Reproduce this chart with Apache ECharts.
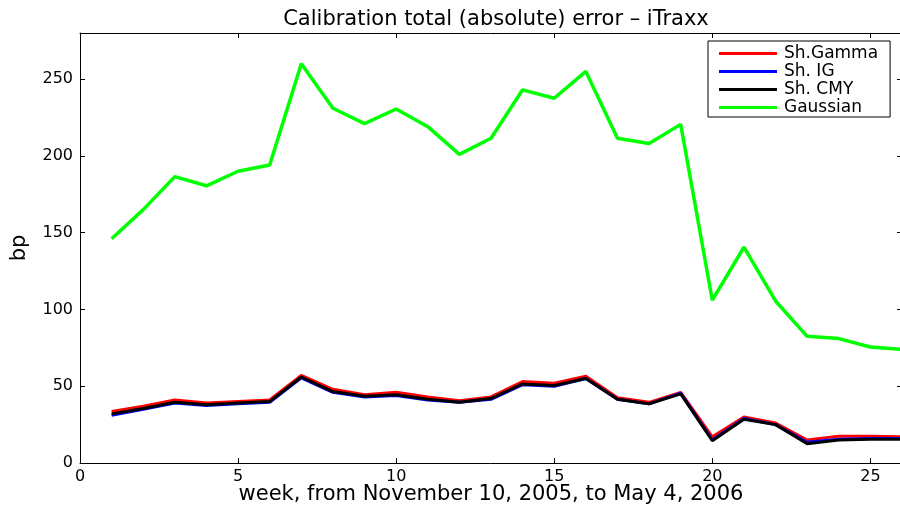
<!DOCTYPE html>
<html>
<head>
<meta charset="utf-8">
<script src="https://cdn.jsdelivr.net/npm/echarts@6/dist/echarts.min.js"></script>
<style>
  html, body { margin: 0; padding: 0; background: #fff; }
  #chart { width: 900px; height: 506px; }
</style>
</head>
<body>
<div id="chart"></div>
<script>
// weeks 1..26
const weeks = [1, 2, 3, 4, 5, 6, 7, 8, 9, 10, 11, 12, 13, 14, 15, 16, 17, 18, 19, 20, 21, 22, 23, 24, 25, 26];

// error in bp
const shGamma = [33.5, 37, 41, 39, 40, 41, 57, 48, 44.5, 46, 43, 40.5, 43, 53, 52, 56.5, 42.5, 39.5, 46, 17, 30, 26, 15, 17.5, 17.5, 17];
const shIG = [31, 35, 39, 37.5, 38.5, 39.5, 55.5, 46, 43, 44, 41, 39.5, 41.5, 51, 50, 55, 41.5, 38.5, 45.5, 15, 29, 25, 13.5, 15.5, 16, 16];
const shCMY = [32, 35.5, 39.5, 38, 39, 40, 56, 46.5, 43.5, 44.5, 41.5, 39.5, 42, 51.5, 50.5, 55, 41.5, 38.5, 45, 14.5, 28.5, 25, 12.5, 15, 15.5, 15.5];
const gaussian = [146, 165, 186.5, 180.5, 190, 194, 260, 231, 221, 230.5, 219, 201, 211.5, 243, 237.5, 255, 211.5, 208, 220.5, 106, 140.5, 105.5, 82.5, 81, 75.5, 74];

const seriesNames = ['Sh.Gamma', 'Sh. IG', 'Sh. CMY', 'Gaussian'];
const seriesColors = ['#ff0000', '#0000ff', '#000000', '#00ff00'];

const chart = echarts.init(document.getElementById('chart'));

function pairs(vals) {
    return weeks.map((w, i) => [w, vals[i]]);
}

const tickFont = { fontFamily: 'DejaVu Sans', fontSize: 16, color: '#000' };
const boxLine = { show: true, onZero: false, lineStyle: { color: '#000', width: 1 } };
const innerTick = { show: true, inside: true, length: 5, lineStyle: { color: '#000' } };

const option = {
    animation: false,
    backgroundColor: '#fff',
    title: {
        text: 'Calibration total (absolute) error \u2013 iTraxx',
        left: 491,
        textAlign: 'center',
        top: 4,
        textStyle: { fontFamily: 'DejaVu Sans', fontWeight: 'normal', fontSize: 21, color: '#000' }
    },
    grid: { left: 80, right: -2, top: 33, bottom: 43, show: false, outerBoundsMode: 'none', containLabel: false },
    legend: {
        data: seriesNames,
        orient: 'vertical',
        left: 708,
        top: 41,
        padding: [4, 12, 1, 11],
        itemGap: 1,
        itemWidth: 58,
        itemHeight: 3,
        icon: 'rect',
        backgroundColor: '#fff',
        borderColor: '#000',
        borderWidth: 1,
        textStyle: { fontFamily: 'DejaVu Sans', fontSize: 17, color: '#000', padding: [0, 0, 0, 2] }
    },
    xAxis: [{
        type: 'value',
        min: 0,
        max: 26,
        interval: 5,
        name: 'week, from November 10, 2005, to May 4, 2006',
        nameLocation: 'middle',
        nameGap: 21,
        nameMoveOverlap: false,
        nameTextStyle: { fontFamily: 'DejaVu Sans', fontSize: 21, color: '#000' },
        axisLine: boxLine,
        axisTick: innerTick,
        axisLabel: Object.assign({ margin: 6, showMaxLabel: false }, tickFont),
        splitLine: { show: false }
    }, {
        type: 'value',
        position: 'top',
        min: 0,
        max: 26,
        interval: 5,
        axisLine: boxLine,
        axisTick: innerTick,
        axisLabel: { show: false },
        splitLine: { show: false }
    }],
    yAxis: [{
        type: 'value',
        min: 0,
        max: 280,
        interval: 50,
        name: 'bp',
        nameLocation: 'middle',
        nameGap: 50,
        nameMoveOverlap: false,
        nameTextStyle: { fontFamily: 'DejaVu Sans', fontSize: 21, color: '#000' },
        axisLine: boxLine,
        axisTick: innerTick,
        axisLabel: Object.assign({ margin: 7, showMaxLabel: false }, tickFont),
        splitLine: { show: false }
    }, {
        type: 'value',
        position: 'right',
        min: 0,
        max: 280,
        interval: 50,
        axisLine: boxLine,
        axisTick: innerTick,
        axisLabel: { show: false },
        splitLine: { show: false }
    }],
    series: [shGamma, shIG, shCMY, gaussian].map((vals, i) => ({
        name: seriesNames[i],
        type: 'line',
        data: pairs(vals),
        symbol: 'none',
        color: seriesColors[i],
        lineStyle: { color: seriesColors[i], width: i === 3 ? 3.5 : 3 },
        itemStyle: { color: seriesColors[i] },
        emphasis: { disabled: true },
        z: 2 + i
    }))
};

chart.setOption(option);
</script>
</body>
</html>
